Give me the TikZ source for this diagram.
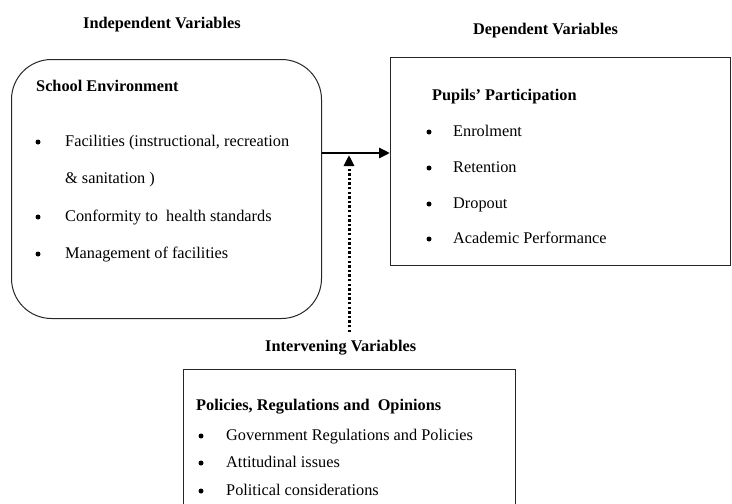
\documentclass[tikz,border=0pt]{standalone}
\usepackage{fontspec}
\setmainfont{Liberation Serif}
\usetikzlibrary{arrows.meta}
\begin{document}
\begin{tikzpicture}[x=1pt,y=-1pt,
  txt/.style={anchor=base west, inner sep=0pt, font=\fontsize{16.3}{19}\selectfont},
  ttl/.style={anchor=base west, inner sep=0pt, font=\fontsize{16.3}{19}\selectfont\bfseries},
  bul/.style={circle, fill=black, inner sep=0pt, minimum size=5pt},
  frame/.style={draw=black!85, line width=1pt},
  tip/.style={-{Triangle[length=11pt,width=10pt]}}]
\useasboundingbox (0,0) rectangle (732,504);
% titles
\node[ttl] (tind) at (83,28) {Independent Variables};
\node[ttl] (tdep) at (473,34) {Dependent Variables};
\node[ttl] (tint) at (265,351) {Intervening Variables};
% left rounded box
\node[frame, rounded corners=40pt, minimum width=310pt, minimum height=259pt, anchor=north west] (indep) at (11,59) {};
\node[ttl] (se) at (36,91) {School Environment};
\node[bul] (b1) at (38,142) {};
\node[txt] (i1) at (65,146) {Facilities (instructional, recreation};
\node[txt] (i1b) at (65,183) {\& sanitation )};
\node[bul] (b2) at (38,217) {};
\node[txt] (i2) at (65,221) {Conformity to\ \ health standards};
\node[bul] (b3) at (38,254) {};
\node[txt] (i3) at (65,258) {Management of facilities};
% right box
\node[frame, minimum width=340pt, minimum height=208pt, anchor=north west] (dep) at (390,57) {};
\node[ttl] (pp) at (432,100) {Pupils’ Participation};
\node[bul] (d1) at (429,132) {};
\node[txt] (e1) at (453,136) {Enrolment};
\node[bul] (d2) at (429,168) {};
\node[txt] (e2) at (453,172) {Retention};
\node[bul] (d3) at (429,204) {};
\node[txt] (e3) at (453,208) {Dropout};
\node[bul] (d4) at (429,239) {};
\node[txt] (e4) at (453,243) {Academic Performance};
% bottom box (cut off at bottom)
\coordinate (bl) at (183,504);
\coordinate (tl) at (183,369);
\coordinate (tr) at (515,369);
\coordinate (br) at (515,504);
\draw[frame] (bl) -- (tl) -- (tr) -- (br);
\node[ttl] (pr) at (196,410) {Policies, Regulations and\ \ Opinions};
\node[bul] (c1) at (201,436) {};
\node[txt] (g1) at (226,440) {Government Regulations and Policies};
\node[bul] (c2) at (201,463) {};
\node[txt] (g2) at (226,467) {Attitudinal issues};
\node[bul] (c3) at (201,491) {};
\node[txt] (g3) at (226,495) {Political considerations};
% arrows
\coordinate (mid) at (349,153);
\coordinate (midlow) at (349,155);
\coordinate (dotbot) at (349,332);
\draw[line width=2.8pt, tip] (indep.east |- mid) -- (dep.west |- mid);
\draw[line width=3pt, dash pattern=on 2.4pt off 2.2pt, tip] (dotbot) -- (midlow);
\end{tikzpicture}
\end{document}
